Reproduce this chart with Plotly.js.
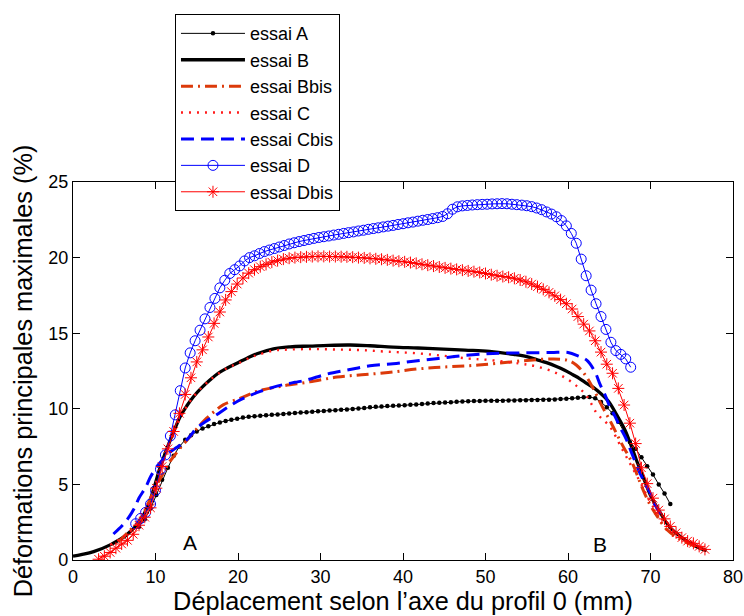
<!DOCTYPE html>
<html>
<head>
<meta charset="utf-8">
<script src="https://cdn.plot.ly/plotly-3.0.1.min.js"></script>
<style>html,body{margin:0;padding:0;background:#fff;}#chart{width:744px;height:616px;}</style>
</head>
<body>
<div id="chart"></div>
<script>
// ---- data ----
const seriesNames = ["essai A", "essai B", "essai Bbis", "essai C", "essai Cbis", "essai D", "essai Dbis"];

const xA = [8.0,8.7,9.4,10.1,10.8,11.5,12.2,12.9,13.6,14.3,15.0,15.7,16.4,17.1,17.8,18.5,19.2,19.9,20.6,21.3,22.0,22.7,23.4,24.1,24.8,25.5,26.2,26.9,27.6,28.3,29.0,29.7,30.4,31.1,31.8,32.5,33.2,33.9,34.6,35.3,36.0,36.7,37.4,38.1,38.8,39.5,40.2,40.9,41.6,42.3,43.0,43.7,44.4,45.1,45.8,46.5,47.2,47.9,48.6,49.3,50.0,50.7,51.4,52.1,52.8,53.5,54.2,54.9,55.6,56.3,57.0,57.7,58.4,59.1,59.8,60.5,61.2,61.9,62.6,63.3,64.0,64.7,65.4,66.1,66.8,67.5,68.2,68.9,69.6,70.3,71.0,71.7,72.4];
const yA = [2.2,2.7,3.4,4.3,5.3,6.1,6.9,7.5,7.95,8.25,8.5,8.7,8.85,9.0,9.1,9.2,9.28,9.35,9.42,9.47,9.5,9.54,9.57,9.6,9.63,9.66,9.69,9.72,9.75,9.78,9.8,9.84,9.86,9.88,9.9,9.93,9.96,9.99,10.02,10.06,10.1,10.14,10.16,10.18,10.2,10.22,10.24,10.26,10.29,10.32,10.35,10.38,10.4,10.42,10.44,10.46,10.48,10.5,10.51,10.52,10.53,10.53,10.54,10.54,10.55,10.55,10.56,10.57,10.58,10.59,10.6,10.6,10.62,10.64,10.66,10.7,10.73,10.76,10.78,10.7,10.45,10.1,9.7,9.15,8.5,7.8,7.35,6.8,6.2,5.65,5.0,4.4,3.7];

const xB = [0,1,2.5,4.5,6.5,8.2,9.2,10.0,10.6,11.2,11.8,12.4,13.0,13.8,14.6,15.6,16.6,17.6,18.7,20.0,21.1,22.3,24.3,26.3,28.7,31,33.6,36,38.8,41.8,44.9,47.5,50.5,53.4,55,56.2,57.4,58.6,59.6,60.6,61.4,62.2,63.1,63.9,64.9,65.9,66.9,67.7,68.3,69.1,69.9,70.5,71.1,72.3,73.9,75.6,76.8];
const yB = [0.26,0.36,0.55,1.0,1.66,2.65,3.75,5.1,6.2,7.1,7.95,8.75,9.5,10.2,10.8,11.4,11.9,12.35,12.7,13.05,13.35,13.64,13.97,14.1,14.15,14.2,14.22,14.17,14.08,14.02,13.95,13.88,13.8,13.6,13.45,13.25,13.05,12.8,12.55,12.25,12.0,11.7,11.4,11.04,10.5,9.6,8.6,7.5,6.6,5.5,4.4,3.75,3.2,2.2,1.44,0.88,0.62];

const xBbis = [5.5,6.6,8.0,9.0,10.0,10.8,11.6,12.2,13.0,14.2,15.2,16.2,17.2,18.2,20.3,22.3,25.1,28.7,32.0,35.0,38.2,41.7,44.9,48.1,51.3,55.0,58.2,60.0,61.0,62.0,63.0,64.2,65.3,66.5,67.8,68.9,69.9,70.8,72.0,73.5,75.2,76.5];
const yBbis = [1.2,1.8,2.6,3.6,4.8,5.6,6.4,6.84,7.4,8.17,8.8,9.38,9.85,10.26,10.7,11.15,11.48,11.78,12.1,12.25,12.4,12.63,12.76,12.85,13.0,13.2,13.3,13.2,12.9,12.3,11.4,10.1,9.0,7.7,6.4,4.9,3.7,2.9,2.0,1.4,0.95,0.7];

const xC = [4.5,6.5,8.2,9.2,10.0,10.6,11.8,13.0,14.6,16.6,18.7,20.0,21.5,22.3,24.3,26.3,29.1,32,35,38,41.5,45,48,50,54,56.2,58.6,60.6,62.2,63.5,65.1,66.5,67.7,68.9,69.9,71.1,72.3,73.9,75.6,76.8];
const yC = [1.0,1.7,2.7,3.7,5.0,6.1,7.9,9.4,10.8,11.9,12.7,13.0,13.4,13.55,13.85,13.92,13.95,13.92,13.88,13.78,13.68,13.5,13.32,13.25,13.0,12.8,12.36,11.7,10.9,9.7,8.8,7.4,6.2,5.0,3.9,2.9,2.1,1.4,0.9,0.65];

const xCbis = [4.9,6.0,6.8,7.5,8.0,8.8,9.4,10.2,11.0,11.8,12.6,13.4,14.2,15.0,16.2,17.4,18.6,19.9,21.3,22.7,24.1,25.5,26.9,28.3,30.8,33.4,36.0,38.8,41.5,44.3,46.9,49.7,52.0,55.0,58.0,60.0,61.2,62.3,63.3,63.9,64.5,65.1,65.7,66.3,67.1,67.7,68.6,69.3,69.9,70.5,71.3];
const yCbis = [1.72,2.3,2.85,3.5,4.1,4.8,5.5,6.2,6.7,7.15,7.45,7.75,8.2,8.72,9.2,9.6,10.05,10.48,10.85,11.15,11.4,11.6,11.75,11.9,12.3,12.58,12.85,12.98,13.16,13.33,13.5,13.62,13.68,13.7,13.72,13.72,13.5,13.2,12.4,11.6,10.9,10.1,9.5,8.8,7.95,7.1,5.9,5.1,4.5,3.7,3.0];

const xD = [7.6,8.2,8.8,9.4,10.0,10.6,11.2,11.8,12.4,13.0,13.6,14.2,14.8,15.4,16.0,16.6,17.2,17.8,18.4,19.0,19.6,20.2,20.8,21.4,22.0,22.6,23.2,23.8,24.4,25.0,25.6,26.2,26.8,27.4,28.0,28.6,29.2,29.8,30.4,31.0,31.6,32.2,32.8,33.4,34.0,34.6,35.2,35.8,36.4,37.0,37.6,38.2,38.8,39.4,40.0,40.6,41.2,41.8,42.4,43.0,43.6,44.2,44.8,45.4,46.0,46.6,47.2,47.8,48.4,49.0,49.6,50.2,50.8,51.4,52.0,52.6,53.2,53.8,54.4,55.0,55.6,56.2,56.8,57.4,58.0,58.6,59.2,59.8,60.4,61.0,61.6,62.2,62.8,63.4,64.0,64.6,65.2,65.8,66.4,67.0,67.6];
const yD = [2.4,2.75,3.15,3.7,4.6,6.0,6.95,8.2,9.6,11.2,
  12.7,13.7,14.5,15.2,15.95,16.7,17.3,18.0,18.5,18.95,
  19.2,19.45,19.78,20.0,20.12,20.27,20.4,20.5,20.6,20.7,
  20.8,20.9,20.98,21.06,21.13,21.2,21.27,21.33,21.38,21.43,
  21.49,21.54,21.6,21.65,21.7,21.76,21.81,21.87,21.92,21.97,
  22.03,22.08,22.13,22.19,22.24,22.3,22.35,22.41,22.47,22.52,
  22.58,22.64,22.72,22.9,23.2,23.36,23.42,23.45,23.48,23.5,
  23.52,23.53,23.55,23.56,23.57,23.56,23.53,23.5,23.47,23.43,
  23.37,23.28,23.17,23.02,22.88,22.7,22.45,22.1,21.6,20.95,
  19.9,18.8,17.85,16.95,16.1,15.25,14.4,13.85,13.6,13.3,
  12.75];

const xDbis = [3.1,3.8,4.5,5.2,5.9,6.6,7.3,8.0,8.7,9.4,10.1,10.8,11.5,12.2,12.9,13.6,14.3,15.0,15.7,16.4,17.1,17.8,18.5,19.2,19.9,20.6,21.3,22.0,22.7,23.4,24.1,24.8,25.5,26.2,26.9,27.6,28.3,29.0,29.7,30.4,31.1,31.8,32.5,33.2,33.9,34.6,35.3,36.0,36.7,37.4,38.1,38.8,39.5,40.2,40.9,41.6,42.3,43.0,43.7,44.4,45.1,45.8,46.5,47.2,47.9,48.6,49.3,50.0,50.7,51.4,52.1,52.8,53.5,54.2,54.9,55.6,56.3,57.0,57.7,58.4,59.1,59.8,60.5,61.2,61.9,62.6,63.3,64.0,64.7,65.4,66.1,66.8,67.5,68.2,68.9,69.6,70.3,71.0,71.7,72.4,73.1,73.8,74.5,75.2,75.9,76.6];
const yDbis = [0.05,0.25,0.5,0.78,1.06,1.3,1.7,2.3,2.83,3.45,
  4.75,6.18,7.35,8.5,9.7,10.95,12.05,13.1,13.9,14.75,
  15.65,16.4,17.2,17.75,18.25,18.65,18.97,19.2,19.4,19.55,
  19.7,19.8,19.9,19.96,20.0,20.03,20.05,20.07,20.08,20.08,
  20.07,20.07,20.06,20.05,20.03,20.0,19.98,19.95,19.92,19.89,
  19.85,19.8,19.76,19.72,19.67,19.62,19.56,19.5,19.44,19.38,
  19.32,19.27,19.22,19.17,19.12,19.07,19.02,18.95,18.87,18.8,
  18.75,18.7,18.63,18.52,18.4,18.25,18.08,17.9,17.7,17.47,
  17.22,16.95,16.6,16.1,15.6,15.15,14.5,13.75,12.95,12.35,
  11.35,10.25,9.05,7.7,6.1,5.05,4.09,3.3,2.72,2.22,
  1.8,1.48,1.25,1.1,0.9,0.7];

const xTicks = [0,10,20,30,40,50,60,70,80];
const yTicks = [0,5,10,15,20,25];
const pointLabels = ["A", "B"];
const pointLabelX = [14.2, 63.9];
const pointLabelY = [1.15, 1.0];

// ---- styling ----
const FONT = "Liberation Sans, Arial, Helvetica, sans-serif";

const traces = [
  {x: xA, y: yA, name: seriesNames[0], mode: "lines+markers",
   line: {color: "#000000", width: 1}, marker: {symbol: "circle", size: 4.5, color: "#000000"}},
  {x: xB, y: yB, name: seriesNames[1], mode: "lines",
   line: {color: "#000000", width: 3.3, shape: "spline"}},
  {x: xBbis, y: yBbis, name: seriesNames[2], mode: "lines",
   line: {color: "#dc3a0a", width: 3, dash: "12px,5px,2px,5px", shape: "spline"}},
  {x: xC, y: yC, name: seriesNames[3], mode: "lines",
   line: {color: "#ff1a1a", width: 2.4, dash: "2px,6px", shape: "spline"}},
  {x: xCbis, y: yCbis, name: seriesNames[4], mode: "lines",
   line: {color: "#0000ff", width: 3, dash: "13px,7px", shape: "spline"}},
  {x: xD, y: yD, name: seriesNames[5], mode: "lines+markers",
   line: {color: "#0000ff", width: 1},
   marker: {symbol: "circle-open", size: 10, color: "#0000ff", line: {color: "#0000ff", width: 1}}},
  {x: xDbis, y: yDbis, name: seriesNames[6], mode: "lines+markers",
   line: {color: "#ff0000", width: 1},
   marker: {symbol: "asterisk-open", size: 10, color: "#ff0000", line: {color: "#ff0000", width: 1}}}
];

const axisCommon = {
  showline: true, linecolor: "#000000", linewidth: 1.2, mirror: "ticks",
  ticks: "inside", ticklen: 7, tickwidth: 1, tickcolor: "#000000",
  showgrid: false, zeroline: false,
  tickfont: {family: FONT, size: 18, color: "#000000"}
};

const layout = {
  width: 744, height: 616,
  margin: {l: 73, r: 11, t: 182, b: 56, pad: 0},
  paper_bgcolor: "#ffffff", plot_bgcolor: "#ffffff",
  font: {family: FONT, color: "#000000"},
  showlegend: true,
  xaxis: Object.assign({}, axisCommon, {
    range: [0, 80], tickvals: xTicks, ticktext: xTicks.map(String),
    title: {text: "Déplacement selon l’axe du profil 0 (mm)", font: {family: FONT, size: 25.3, color: "#000000"}, standoff: 2}
  }),
  yaxis: Object.assign({}, axisCommon, {
    range: [0, 25], tickvals: yTicks, ticktext: yTicks.map(String),
    title: {text: "Déformations principales maximales (%)", font: {family: FONT, size: 25.3, color: "#000000"}, standoff: 8}
  }),
  legend: {
    x: 0.1545, y: 1.444, xanchor: "left", yanchor: "top",
    bgcolor: "#ffffff", bordercolor: "#000000", borderwidth: 1,
    font: {family: FONT, size: 18, color: "#000000"},
    itemwidth: 64, traceorder: "normal"
  },
  annotations: pointLabels.map((t, i) => ({
    x: pointLabelX[i], y: pointLabelY[i], xref: "x", yref: "y", text: t, showarrow: false,
    font: {family: FONT, size: 21, color: "#000000"}
  }))
};

Plotly.newPlot("chart", traces, layout, {displayModeBar: false, staticPlot: true});
</script>
</body>
</html>
